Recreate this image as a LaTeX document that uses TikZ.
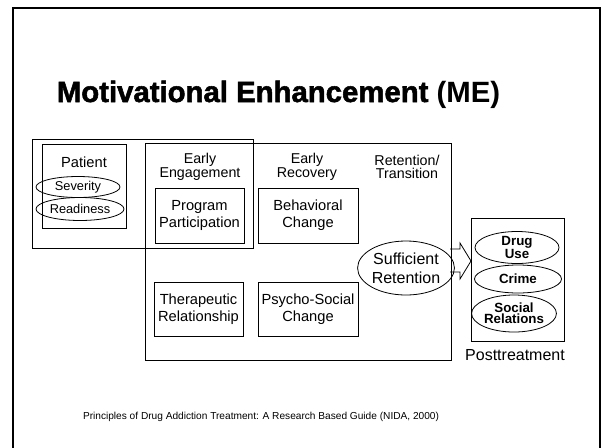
\documentclass[tikz,border=0pt]{standalone}
\usepackage{fontspec}
\setmainfont{Liberation Sans}
\newfontfamily\heavyfont[FakeBold=1.8]{Liberation Sans Bold}
\usetikzlibrary{shapes.geometric}
\begin{document}
\begin{tikzpicture}[x=0.75pt,y=-0.75pt,
  line width=0.6pt,
  frame/.style={draw, line width=1.3pt},
  container/.style={draw, inner sep=0pt},
  stepbox/.style={draw, inner sep=0pt, align=center, font=\fontsize{11}{13}\selectfont},
  oval/.style={draw, ellipse, inner sep=0pt, align=center},
  lbl/.style={inner sep=0pt, align=center, font=\fontsize{10.7}{9.5}\selectfont},
  outc/.style={oval, font=\fontsize{10}{8.5}\selectfont\bfseries}
]
\useasboundingbox (0,0) rectangle (602,447);
\draw[frame] (13,8) rectangle (600,470);

% title
\node[inner sep=0pt, anchor=base] (title) at (278.5,102)
  {\fontsize{22}{26}\selectfont{\heavyfont Motivational Enhancement} \textbf{(ME)}};

% patient
\node[container, minimum width={221*0.75pt}, minimum height={109*0.75pt}] (patout) at (142.5,193.5) {};
\node[container, minimum width={84*0.75pt}, minimum height={84*0.75pt}] (patin) at (84,186) {};
\node[inner sep=0pt, font=\fontsize{11}{13}\selectfont] (patlbl) at (84,162) {Patient};
\node[oval, minimum width={84*0.75pt}, minimum height={21*0.75pt}, font=\fontsize{9.6}{11}\selectfont] (sev) at (78,187) {Severity};
\node[oval, minimum width={88*0.75pt}, minimum height={23*0.75pt}, font=\fontsize{9.6}{11}\selectfont] (read) at (80,209) {Readiness};

% main box
\node[container, minimum width={306*0.75pt}, minimum height={217*0.75pt}] (main) at (298,251.5) {};
\node[lbl] (ee) at (200,167) {Early\\Engagement};
\node[lbl] (er) at (307,167) {Early\\Recovery};
\node[lbl] (rt) at (407,167) {Retention/\\Transition};

\node[stepbox, minimum width={89*0.75pt}, minimum height={55*0.75pt}] (prog) at (199.5,215.5) {Program\\Participation};
\node[stepbox, minimum width={100*0.75pt}, minimum height={55*0.75pt}] (beh) at (308,215.5) {Behavioral\\Change};
\node[stepbox, minimum width={89*0.75pt}, minimum height={54*0.75pt}] (ther) at (198.5,309) {Therapeutic\\Relationship};
\node[stepbox, minimum width={100*0.75pt}, minimum height={54*0.75pt}] (psy) at (308,309) {Psycho-Social\\Change};

\node[oval, minimum width={88*0.75pt}, minimum height={54*0.75pt}, font=\fontsize{12}{14.5}\selectfont] (suff) at (406,268) {Sufficient\\Retention};

% posttreatment
\node[container, minimum width={93*0.75pt}, minimum height={123*0.75pt}] (post) at (517.5,279.5) {};
\node[outc, minimum width={84*0.75pt}, minimum height={31*0.75pt}] (drug) at (517,247.5) {Drug\\Use};
\node[outc, minimum width={87*0.75pt}, minimum height={28*0.75pt}] (crime) at (518,279) {Crime};
\node[outc, minimum width={78*0.75pt}, minimum height={37*0.75pt}] (soc) at (514,313.5) {Social\\Relations};
\node[inner sep=0pt, font=\fontsize{12}{14}\selectfont] (postlbl) at (515,355) {Posttreatment};

% block arrow from the retention ellipse to the posttreatment box
\draw (450,249) -- (460,249) -- (460,243) -- (471,261) -- (460,279) -- (460,272) -- (450,272);

% footer
\node[inner sep=0pt, font=\fontsize{7.6}{9}\selectfont] (foot) at (261,417)
  {Principles of Drug Addiction Treatment: A Research Based Guide (NIDA, 2000)};
\end{tikzpicture}
\end{document}
